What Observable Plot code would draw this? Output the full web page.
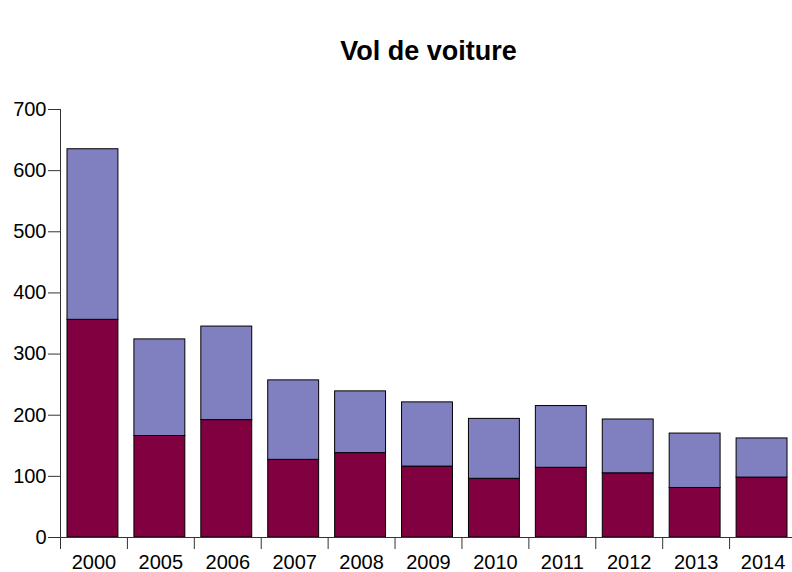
<!DOCTYPE html>
<html>
<head>
<meta charset="utf-8">
<script src="https://cdn.jsdelivr.net/npm/d3@7"></script>
<script src="https://cdn.jsdelivr.net/npm/@observablehq/plot@0.6"></script>
<style>
  html, body { margin: 0; padding: 0; background: #fff; overflow: hidden; }
  svg { display: block; }
</style>
</head>
<body>
<div id="chart"></div>
<script>
const title = "Vol de voiture";
const years = ["2000","2005","2006","2007","2008","2009","2010","2011","2012","2013","2014"];
const lower = [356, 166, 192, 127, 138, 116, 96, 114, 105, 81, 98];
const totals = [635, 324, 345, 257, 239, 221, 194, 215, 193, 170, 162];
const yTicks = [0, 100, 200, 300, 400, 500, 600, 700];
const seriesColors = ["#800040", "#8080C0"];

const rows = [];
years.forEach((yr, i) => {
  rows.push({year: yr, series: "a", y1: 0, y2: lower[i]});
  rows.push({year: yr, series: "b", y1: lower[i], y2: totals[i]});
});

const W = 792, H = 572;
const mL = 60, mR = -4, mT = 109, mB = 35;
const step = (W - mL - mR) / years.length;

const chart = Plot.plot({
  width: W,
  height: H,
  marginLeft: mL,
  marginRight: mR,
  marginTop: mT,
  marginBottom: mB,
  style: {fontFamily: "'Liberation Sans', Arial, sans-serif", fontSize: "20px", color: "#000", background: "#fff", overflow: "visible"},
  x: {domain: years, padding: 0, round: false, label: null},
  y: {domain: [0, 700], label: null},
  color: {domain: ["a", "b"], range: seriesColors},
  marks: [
    Plot.barY(rows, {x: "year", y1: "y1", y2: "y2", fill: "series", stroke: "#000", strokeWidth: 1, insetLeft: 7, insetRight: 9}),
    Plot.ruleY([0], {stroke: "#333", strokeWidth: 1}),
    Plot.frame({anchor: "left", stroke: "#333"}),
    Plot.axisY({ticks: yTicks, tickSize: 12, tickPadding: 2, stroke: "#333", fontSize: 20, label: null}),
    Plot.axisX({tickSize: 12, text: null, dx: -step / 2, stroke: "#333"}),
    Plot.axisX({tickSize: 0, tickPadding: 17, fontSize: 20, label: null}),
    Plot.text([title], {frameAnchor: "top", dy: -69, fontSize: 27, fontWeight: "bold", fill: "#000"})
  ]
});
document.getElementById("chart").appendChild(chart);
</script>
</body>
</html>
